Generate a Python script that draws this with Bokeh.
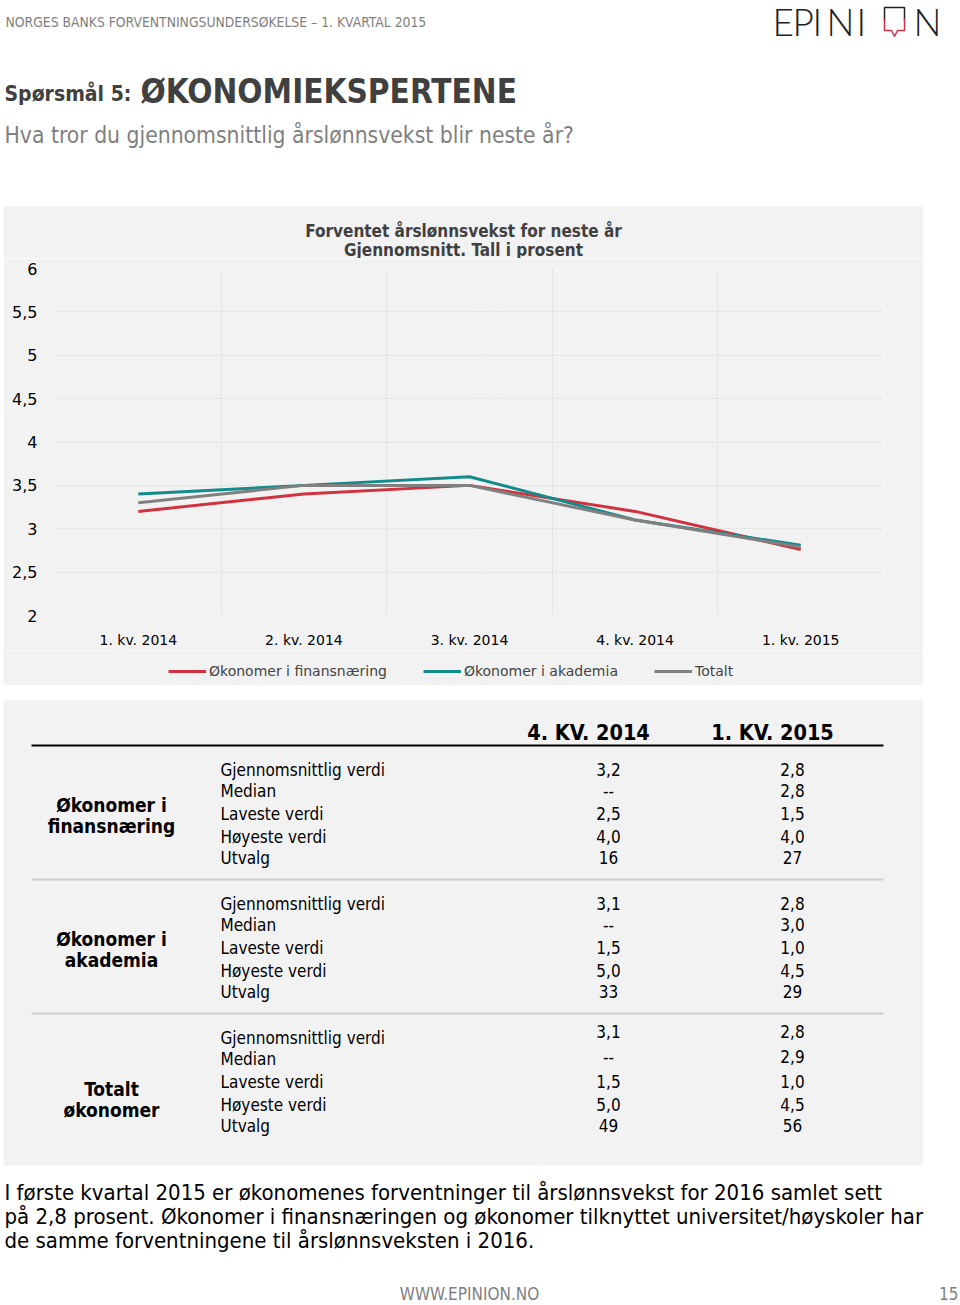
from bokeh.plotting import figure
from bokeh.models import (Range1d, FixedTicker, CustomJSTickFormatter, Legend, LegendItem)
from bokeh.layouts import column
from bokeh.core.properties import value
from bokeh.embed import file_html
from bokeh.resources import INLINE

# ---------------- data ----------------
quarters = ["1. kv. 2014", "2. kv. 2014", "3. kv. 2014", "4. kv. 2014", "1. kv. 2015"]
finans = [3.2, 3.4, 3.5, 3.2, 2.76]
akademia = [3.4, 3.5, 3.6, 3.1, 2.81]
totalt = [3.3, 3.5, 3.5, 3.1, 2.79]
series_names = ["Økonomer i finansnæring", "Økonomer i akademia", "Totalt"]
y_ticks = [2, 2.5, 3, 3.5, 4, 4.5, 5, 5.5, 6]

col_headers = ["4. KV. 2014", "1. KV. 2015"]
groups = [["Økonomer i", "finansnæring"], ["Økonomer i", "akademia"], ["Totalt", "økonomer"]]
row_labels = ["Gjennomsnittlig verdi", "Median", "Laveste verdi", "Høyeste verdi", "Utvalg"]
finans_q4_2014 = ["3,2", "--", "2,5", "4,0", "16"]
finans_q1_2015 = ["2,8", "2,8", "1,5", "4,0", "27"]
akademia_q4_2014 = ["3,1", "--", "1,5", "5,0", "33"]
akademia_q1_2015 = ["2,8", "3,0", "1,0", "4,5", "29"]
totalt_q4_2014 = ["3,1", "--", "1,5", "5,0", "49"]
totalt_q1_2015 = ["2,8", "2,9", "1,0", "4,5", "56"]

header_text = "NORGES BANKS FORVENTNINGSUNDERSØKELSE – 1. KVARTAL 2015"
logo_letters = ["E", "P", "I", "N", "I"]
logo_last = "N"
question_label = "Spørsmål 5:"
question_topic = "ØKONOMIEKSPERTENE"
question_text = "Hva tror du gjennomsnittlig årslønnsvekst blir neste år?"
chart_title = ["Forventet årslønnsvekst for neste år", "Gjennomsnitt. Tall i prosent"]
summary = ["I første kvartal 2015 er økonomenes forventninger til årslønnsvekst for 2016 samlet sett",
           "på 2,8 prosent. Økonomer i finansnæringen og økonomer tilknyttet universitet/høyskoler har",
           "de samme forventningene til årslønnsveksten i 2016."]
footer = "WWW.EPINION.NO"
page_no = "15"

# ---------------- styles ----------------
BG = "#f2f2f2"
RED = "#d2323f"
TEAL = "#138a8c"
GRAY = "#808080"
COLORS = [RED, TEAL, GRAY]
FONT_NAME = "DejaVu Sans"
COND = value("DejaVu Sans Condensed")
LOGO = value("Lato Light, Lato")


def page_fig(w, h, x0, top, bottom, bg="white", margin=(0, 0, 0, 0)):
    f = figure(width=w, height=h, x_range=Range1d(x0, x0 + w), y_range=Range1d(bottom, top),
               x_axis_type=None, y_axis_type=None, frame_align=False, margin=margin,
               output_backend="svg", toolbar_location=None, min_border=0)
    f.grid.visible = False
    f.outline_line_color = None
    f.background_fill_color = bg
    f.border_fill_color = bg
    return f


# ---------------- header ----------------
hdr = page_fig(960, 206, 0, 0, 206)
hdr.text(x=[5], y=[21], text=[header_text], text_font=COND, text_font_size="13.8px",
         text_color="#7f7f7f", text_baseline="middle")
# logo
hdr.text(x=[772, 792, 812, 826, 856], y=[21] * 5, text=logo_letters, text_font=LOGO,
         text_font_size="37px", text_color="#222222", text_baseline="middle")
hdr.text(x=[913], y=[21], text=[logo_last], text_font=LOGO, text_font_size="37px",
         text_color="#222222", text_baseline="middle")
hdr.multi_line(xs=[[884, 884, 904, 904], [884, 884, 891, 894, 897, 904, 904]],
               ys=[[20, 7, 7, 20], [18, 30, 30, 36, 30, 30, 18]],
               line_color=["#222222", "#d42e45"], line_width=1.5)
hdr.text(x=[4], y=[93], text=[question_label], text_font=COND, text_font_size="21px",
         text_font_style="bold", text_color="#404040", text_baseline="middle")
hdr.text(x=[140], y=[91], text=[question_topic], text_font=COND, text_font_size="33px",
         text_font_style="bold", text_color="#404040", text_baseline="middle")
hdr.text(x=[4], y=[134], text=[question_text], text_font=COND, text_font_size="22.7px",
         text_color="#7f7f7f", text_baseline="middle")

# ---------------- chart title strip ----------------
tt = page_fig(920, 52, 3, 206, 258, bg=BG, margin=(0, 0, 0, 3))
tt.text(x=[463, 463], y=[230, 249], text=chart_title, text_font=COND, text_font_size="17px",
        text_font_style="bold", text_color="#404040", text_align="center", text_baseline="middle")

# ---------------- chart ----------------
xs = [i + 0.5 for i in range(len(quarters))]
p = figure(width=920, height=392, x_range=Range1d(0, len(quarters)), y_range=Range1d(2, 6),
           output_backend="svg", toolbar_location=None, margin=(0, 0, 0, 3), frame_align=False,
           min_border_left=52, min_border_right=40, min_border_top=10, min_border_bottom=32)
p.background_fill_color = BG
p.border_fill_color = BG
p.outline_line_color = None

for vals, c in zip((finans, akademia, totalt), COLORS):
    p.line(xs, vals, line_color=c, line_width=3)

p.yaxis.ticker = FixedTicker(ticks=y_ticks)
p.yaxis.formatter = CustomJSTickFormatter(code="return tick.toString().replace('.', ',');")
p.xaxis.ticker = FixedTicker(ticks=xs)
p.xaxis.formatter = CustomJSTickFormatter(args=dict(labels=quarters),
                                          code="return labels[Math.round(tick - 0.5)];")
for ax in (p.xaxis[0], p.yaxis[0]):
    ax.axis_line_color = None
    ax.major_tick_line_color = None
    ax.minor_tick_line_color = None
    ax.major_label_text_font = FONT_NAME
    ax.major_label_text_color = "#000000"
p.yaxis.major_label_text_font_size = "16px"
p.yaxis.major_label_standoff = 12
p.xaxis.major_label_text_font_size = "14px"
p.xaxis.major_label_standoff = 10

p.xgrid.ticker = FixedTicker(ticks=list(range(len(quarters) + 1)))
p.ygrid.ticker = FixedTicker(ticks=y_ticks)
p.grid.grid_line_color = "#d9d9d9"
p.grid.grid_line_dash = "2 2"
p.grid.grid_line_width = 1

# ---------------- legend strip ----------------
# legend proxies: the same series, drawn outside this strip's visible range (only their legend glyphs show)
lg = page_fig(920, 35, 3, 650, 685, bg=BG, margin=(0, 0, 0, 3))
leg_renderers = [lg.line(xs, vals, line_color=c, line_width=3)
                 for vals, c in zip((finans, akademia, totalt), COLORS)]
legend = Legend(items=[LegendItem(label=n, renderers=[r]) for n, r in zip(series_names, leg_renderers)],
                orientation="horizontal", location=(165, 4), background_fill_alpha=0,
                border_line_color=None, label_text_font=FONT_NAME, label_text_font_size="14px",
                glyph_width=38, glyph_height=20, label_standoff=3, spacing=36, padding=0, margin=0)
lg.add_layout(legend)

# ---------------- table + text ----------------
t = page_fig(960, 620, 0, 685, 1305)
t.quad(left=[3], right=[922.5], top=[700], bottom=[1165], fill_color=BG, line_color=None)
t.text(x=[588, 772], y=[732, 732], text=col_headers, text_font=COND, text_font_size="21.5px",
       text_font_style="bold", text_color="#000000", text_align="center", text_baseline="middle")
t.segment(x0=[31], x1=[883], y0=[745], y1=[745], line_color="#000000", line_width=2)
t.segment(x0=[31, 31], x1=[883, 883], y0=[879, 1013], y1=[879, 1013], line_color="#cccccc", line_width=2)

group_vals = [(finans_q4_2014, finans_q1_2015), (akademia_q4_2014, akademia_q1_2015),
              (totalt_q4_2014, totalt_q1_2015)]
row_offsets = [0, 21, 44, 67, 88]
value_shift = [[0] * 5, [0] * 5, [-6, -2, 0, 0, 0]]
label_offsets = [35, 35, 51]
for gi, (glabel, (q4, q1)) in enumerate(zip(groups, group_vals)):
    y0 = 769 + 134 * gi
    ys = [y0 + o for o in row_offsets]
    vys = [y + s for y, s in zip(ys, value_shift[gi])]
    t.text(x=[220] * len(row_labels), y=ys, text=row_labels, text_font=COND, text_font_size="17px",
           text_color="#000000", text_baseline="middle")
    t.text(x=[608] * len(q4), y=vys, text=q4, text_font=COND, text_font_size="17px",
           text_color="#000000", text_align="center", text_baseline="middle")
    t.text(x=[792] * len(q1), y=vys, text=q1, text_font=COND, text_font_size="17px",
           text_color="#000000", text_align="center", text_baseline="middle")
    ly = y0 + label_offsets[gi]
    t.text(x=[111, 111], y=[ly, ly + 21], text=glabel, text_font=COND, text_font_size="19px",
           text_font_style="bold", text_color="#000000", text_align="center", text_baseline="middle")

t.text(x=[4, 4, 4], y=[1192, 1216, 1240], text=summary, text_font=COND, text_font_size="22px",
       text_color="#000000", text_baseline="middle")
t.text(x=[469], y=[1293], text=[footer], text_font=COND, text_font_size="17px",
       text_color="#7f7f7f", text_align="center", text_baseline="middle")
t.text(x=[958], y=[1293], text=[page_no], text_font=COND, text_font_size="17px",
       text_color="#7f7f7f", text_align="right", text_baseline="middle")

page = column(hdr, tt, p, lg, t, spacing=0)
open("out.html", "w").write(file_html(page, INLINE))
